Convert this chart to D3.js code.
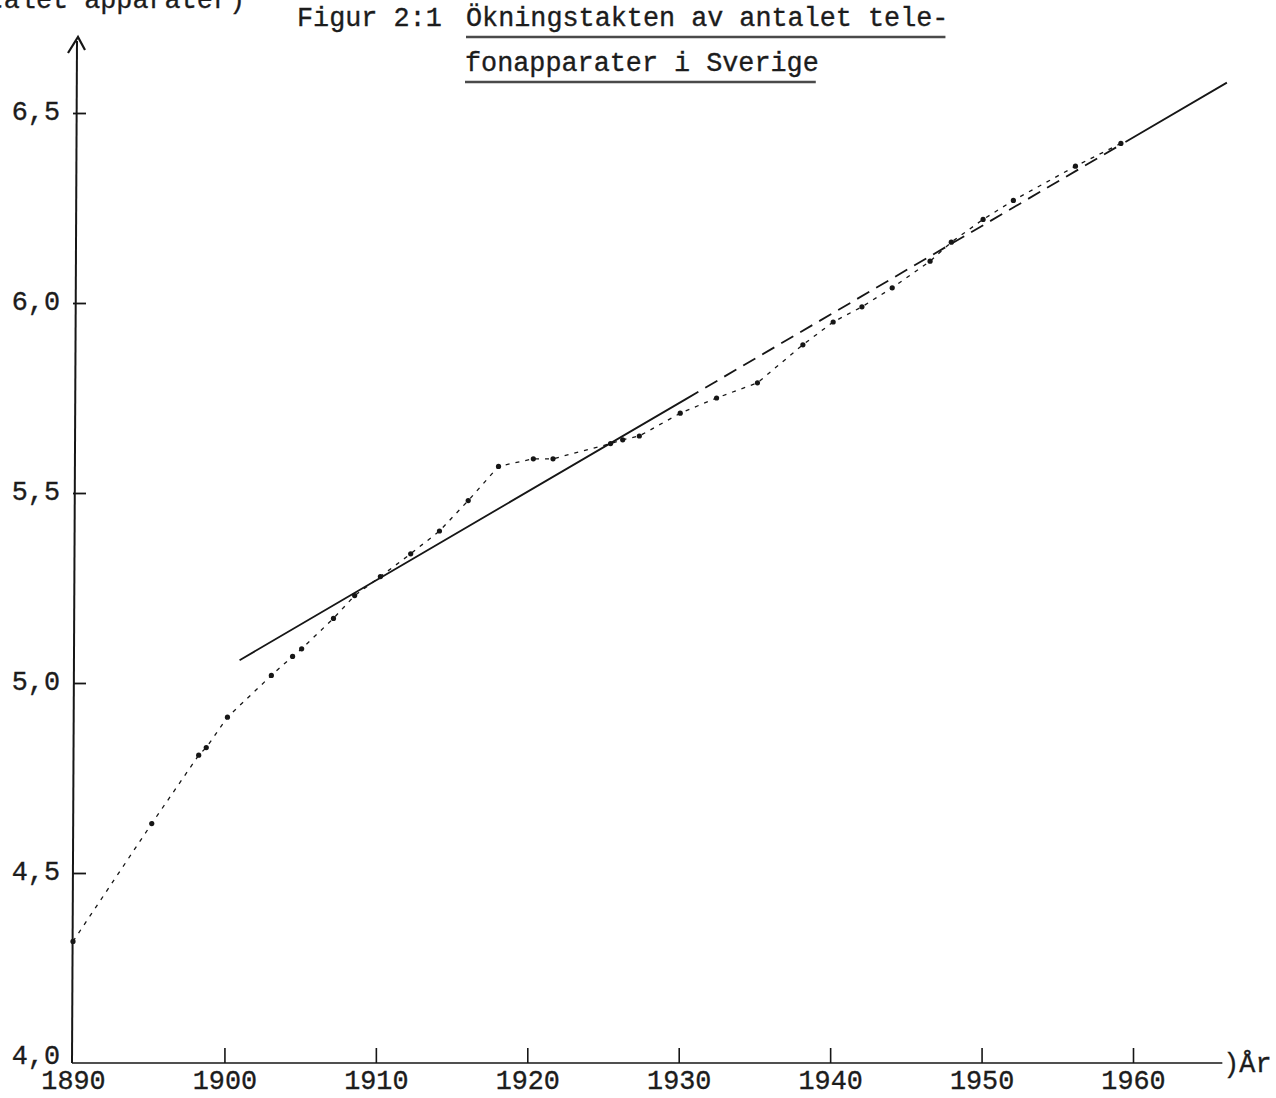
<!DOCTYPE html>
<html>
<head>
<meta charset="utf-8">
<script src="https://cdn.jsdelivr.net/npm/d3@7"></script>
<style>
  html, body { margin: 0; padding: 0; background: #fff; }
  svg { display: block; }
  text { font-family: "Liberation Mono", "Courier New", monospace; fill: #1c1c1c; stroke: #1c1c1c; stroke-width: 0.35px; }
</style>
</head>
<body>
<svg id="chart" width="1276" height="1098"></svg>
<script>
// Observed series: year and log10 of the number of telephone sets in Sweden
const obsYears = [1890.0, 1895.2, 1898.3, 1898.8, 1900.2, 1903.1, 1904.5, 1905.1, 1907.2, 1908.6,
                  1910.3, 1912.3, 1914.2, 1916.1, 1918.1, 1920.4, 1921.7, 1925.5, 1926.3, 1927.4,
                  1930.1, 1932.5, 1935.2, 1938.2, 1940.2, 1942.1, 1944.1, 1946.6, 1948.0, 1950.1,
                  1952.1, 1956.2, 1959.2];
const obsValues = [4.32, 4.63, 4.81, 4.83, 4.91, 5.02, 5.07, 5.09, 5.17, 5.23,
                   5.28, 5.34, 5.40, 5.48, 5.57, 5.59, 5.59, 5.63, 5.64, 5.65,
                   5.71, 5.75, 5.79, 5.89, 5.95, 5.99, 6.04, 6.11, 6.16, 6.22,
                   6.27, 6.36, 6.42];

// Fitted trend line (end points)
const trendYears = [1901.0, 1966.2];
const trendValues = [5.06, 6.58];

// Axis ticks and labels
const yTicks = [4.0, 4.5, 5.0, 5.5, 6.0, 6.5];
const xTicks = [1890, 1900, 1910, 1920, 1930, 1940, 1950, 1960];
const titleLine1Prefix = "Figur 2:1";
const titleLine1 = "Ökningstakten av antalet tele-";
const titleLine2 = "fonapparater i Sverige";
const yAxisLabel = "(log antalet apparater)";
const xAxisLabel = "År";

const svg = d3.select("#chart");
const ink = "#161616";
const fontSize = 26.8;

const x = d3.scaleLinear().domain([1890, 1960]).range([73, 1133]);
const y = d3.scaleLinear().domain([4.0, 6.5]).range([1063, 113]);

const commaFmt = v => d3.format(".1f")(v).replace(".", ",");

// Y axis: ticks pointing into the plot, labels on the left
const yAxisG = svg.append("g")
  .attr("transform", `translate(${x(1890)},0)`)
  .call(d3.axisLeft(y).tickValues(yTicks).tickFormat(commaFmt)
        .tickSizeInner(-13).tickSizeOuter(0).tickPadding(13));
yAxisG.select(".domain").remove();
yAxisG.selectAll(".tick line").attr("stroke", ink).attr("stroke-width", 1.8);
yAxisG.selectAll(".tick text")
  .attr("font-size", fontSize).attr("font-family", "Liberation Mono").attr("fill", ink)
  .attr("dy", d => d === 4.0 ? "0.02em" : "0.24em");
yAxisG.selectAll(".tick").filter(d => d === 4.0).select("line").remove();

// X axis: ticks pointing upward, labels below
const xAxisG = svg.append("g")
  .attr("transform", `translate(0,${y(4.0)})`)
  .call(d3.axisBottom(x).tickValues(xTicks).tickFormat(d3.format("d"))
        .tickSizeInner(-15).tickSizeOuter(0).tickPadding(7));
xAxisG.select(".domain").remove();
xAxisG.selectAll(".tick line").attr("stroke", ink).attr("stroke-width", 1.6);
xAxisG.selectAll(".tick text").attr("font-size", fontSize).attr("font-family", "Liberation Mono").attr("fill", ink);
xAxisG.selectAll(".tick").filter(d => d === 1890).select("line").remove();

// Axis lines
const xEnd = x(1965.9);
const yTop = y(6.70);
svg.append("line")
  .attr("x1", x(1890) - 1).attr("y1", y(4.0))
  .attr("x2", xEnd).attr("y2", y(4.0))
  .attr("stroke", ink).attr("stroke-width", 1.6);
svg.append("line")
  .attr("x1", x(1890) - 1).attr("y1", y(4.0))
  .attr("x2", x(1890) + 4).attr("y2", yTop + 4)
  .attr("stroke", ink).attr("stroke-width", 2);

// Arrow head at the top of the y axis
svg.append("path")
  .attr("d", `M${x(1890) - 5},${yTop + 16} L${x(1890) + 5},${yTop} L${x(1890) + 12},${yTop + 13}`)
  .attr("fill", "none").attr("stroke", ink).attr("stroke-width", 2.2)
  .attr("stroke-linejoin", "miter");

// Axis end marker and unit label
svg.append("text")
  .attr("x", xEnd + 1).attr("y", y(4.0) + 9)
  .attr("font-size", fontSize).text(")");
svg.append("text")
  .attr("x", xEnd + 17).attr("y", y(4.0) + 9)
  .attr("font-size", fontSize).text(xAxisLabel);

// Y axis label (runs off the top-left corner of the page)
svg.append("text")
  .attr("x", 245).attr("y", 8)
  .attr("text-anchor", "end")
  .attr("font-size", fontSize).text(yAxisLabel);

// Title with underlined caption
svg.append("text").attr("x", 297).attr("y", 26).attr("font-size", fontSize).text(titleLine1Prefix);
const t1 = svg.append("text").attr("x", 466).attr("y", 26).attr("font-size", fontSize).text(titleLine1);
const t2 = svg.append("text").attr("x", 465).attr("y", 71).attr("font-size", fontSize).text(titleLine2);
[[t1, 37], [t2, 82]].forEach(([t, uy]) => {
  const bb = t.node().getBBox();
  svg.append("line")
    .attr("x1", bb.x).attr("x2", bb.x + bb.width - 3)
    .attr("y1", uy).attr("y2", uy)
    .attr("stroke", "#4a4a4a").attr("stroke-width", 2.6);
});

// Fitted trend line: solid, broken into dashes where it runs alongside the data, then solid again
const trendPath = svg.append("path")
  .datum(trendYears.map((yr, i) => [yr, trendValues[i]]))
  .attr("d", d3.line().x(d => x(d[0])).y(d => y(d[1])))
  .attr("fill", "none").attr("stroke", ink).attr("stroke-width", 1.8);
{
  const total = trendPath.node().getTotalLength();
  const span = trendYears[1] - trendYears[0];
  const solid1 = total * (1930.5 - trendYears[0]) / span;
  const solid2 = total * (trendYears[1] - 1959.5) / span;
  const mid = total - solid1 - solid2;
  const dash = [];
  let acc = 0;
  while (acc + 22 < mid) { dash.push(14, 8); acc += 22; }
  const rest = mid - acc;
  dash[dash.length - 1] += rest;
  trendPath.attr("stroke-dasharray", [solid1, 0].concat(dash).concat([solid2, 0]).join(","));
}

// Observed series: dotted connecting line plus point marks
const obs = obsYears.map((yr, i) => ({ year: yr, value: obsValues[i] }));
svg.append("path")
  .datum(obs)
  .attr("d", d3.line().x(d => x(d.year)).y(d => y(d.value)))
  .attr("fill", "none").attr("stroke", ink).attr("stroke-width", 1.3)
  .attr("stroke-dasharray", "4,6");
svg.append("g").selectAll("circle")
  .data(obs)
  .join("circle")
  .attr("cx", d => x(d.year)).attr("cy", d => y(d.value))
  .attr("r", 2.6)
  .attr("fill", ink);
</script>
</body>
</html>
